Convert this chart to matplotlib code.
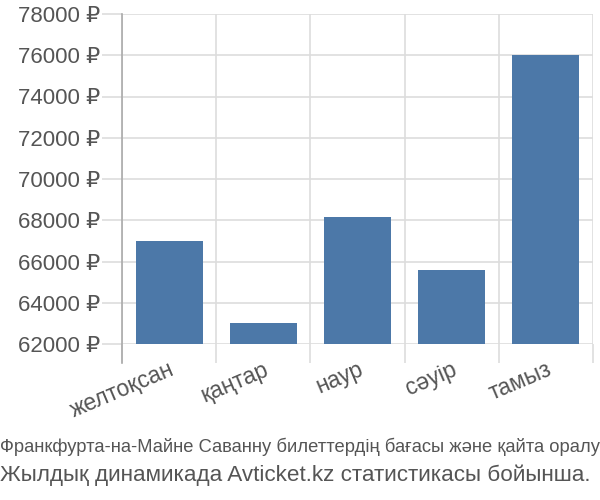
import matplotlib
matplotlib.use("Agg")
import matplotlib.pyplot as plt
import numpy as np

categories = ["желтоқсан", "қаңтар", "наур", "сәуір", "тамыз"]
prices = [67000, 63000, 68150, 65600, 76000]
yticks = [62000, 64000, 66000, 68000, 70000, 72000, 74000, 76000, 78000]
caption1 = "Франкфурта-на-Майне Саванну билеттердің бағасы және қайта оралу"
caption2 = "Жылдық динамикада Avticket.kz статистикасы бойынша."

plt.rcParams['font.family'] = ['Liberation Sans', 'DejaVu Sans']

fig = plt.figure(figsize=(6, 5), dpi=100)
ax = fig.add_axes([122/600, 1-344/500, (593-122)/600, (344-14)/500])

x = np.arange(len(categories))
ax.bar(x, prices, width=0.71, color="#4c78a8", bottom=0, zorder=3)
ax.set_ylim(62000, 78000)
ax.set_xlim(-0.5, len(categories)-0.5)

grid_c = "#dddddd"
ax.set_yticks(yticks)
ax.set_yticklabels([f"{v} ₽" for v in yticks], fontsize=16, color="#555555")
ax.tick_params(axis="y", length=14.4, color=grid_c, width=1.2, pad=1.5)
ax.yaxis.grid(True, color=grid_c, linewidth=1.2, zorder=0)

ax.set_xticks(np.arange(len(categories)+1)-0.5)
ax.set_xticklabels([])
ax.tick_params(axis="x", which="major", length=13.7, color=grid_c, width=1.2)
ax.xaxis.grid(True, which="major", color=grid_c, linewidth=1.2, zorder=0)
ax.set_xticks(x, minor=True)
ax.set_xticklabels(categories, minor=True, rotation=23, ha="right",
                   rotation_mode="anchor", fontsize=16.5, color="#555555")
ax.tick_params(axis="x", which="minor", length=0, pad=10)

for s in ["top", "right", "bottom"]:
    ax.spines[s].set_visible(False)
ax.spines["left"].set_color("#aaaaaa")
ax.spines["left"].set_linewidth(1.2)
ax.spines["left"].set_bounds(62000 - 19/20.625*1000, 78000)
ax.spines["left"].set_zorder(4)

fig.text(0.0, 1-447/500, caption1, fontsize=13.25, color="#555555",
         family=['Liberation Sans Narrow', 'Liberation Sans', 'DejaVu Sans'], va="center", ha="left")
fig.text(0.0, 1-475/500, caption2, fontsize=16.2, color="#555555", va="center", ha="left")

fig.savefig("out.png", dpi=100)
